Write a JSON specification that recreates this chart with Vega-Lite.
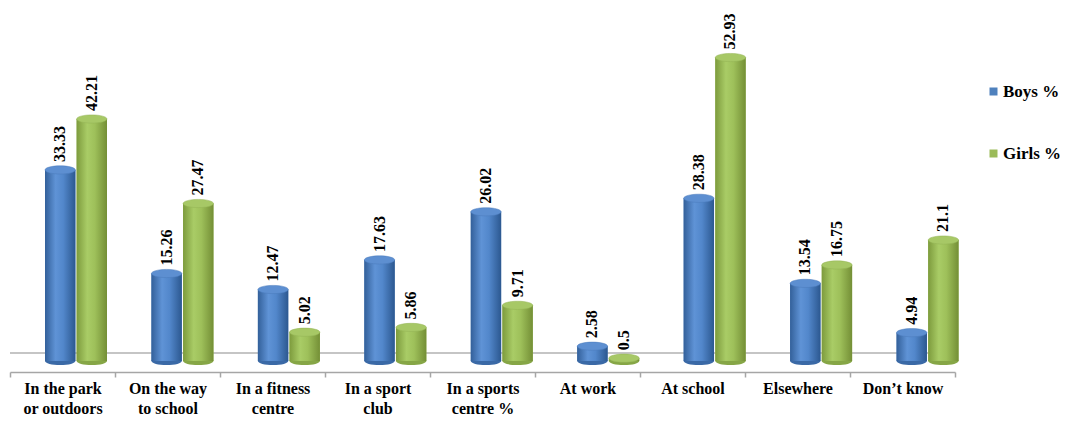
{
  "$schema": "https://vega.github.io/schema/vega-lite/v6.json",
  "width": 945,
  "height": 344,
  "autosize": {"type": "none"},
  "padding": {"left": 10, "top": 17, "right": 113, "bottom": 61},
  "background": "white",
  "config": {"view": {"stroke": null}, "font": "'Liberation Serif', 'Times New Roman', serif"},
  "data": {
    "values": [
      {"category": "In the park|or outdoors", "series": "Boys %", "value": 33.33},
      {"category": "In the park|or outdoors", "series": "Girls %", "value": 42.21},
      {"category": "On the way|to school", "series": "Boys %", "value": 15.26},
      {"category": "On the way|to school", "series": "Girls %", "value": 27.47},
      {"category": "In a fitness|centre", "series": "Boys %", "value": 12.47},
      {"category": "In a fitness|centre", "series": "Girls %", "value": 5.02},
      {"category": "In a sport|club", "series": "Boys %", "value": 17.63},
      {"category": "In a sport|club", "series": "Girls %", "value": 5.86},
      {"category": "In a sports|centre %", "series": "Boys %", "value": 26.02},
      {"category": "In a sports|centre %", "series": "Girls %", "value": 9.71},
      {"category": "At work", "series": "Boys %", "value": 2.58},
      {"category": "At work", "series": "Girls %", "value": 0.5},
      {"category": "At school", "series": "Boys %", "value": 28.38},
      {"category": "At school", "series": "Girls %", "value": 52.93},
      {"category": "Elsewhere", "series": "Boys %", "value": 13.54},
      {"category": "Elsewhere", "series": "Girls %", "value": 16.75},
      {"category": "Don’t know", "series": "Boys %", "value": 4.94},
      {"category": "Don’t know", "series": "Girls %", "value": 21.1}
    ]
  },
  "layer": [
    {
      "mark": {"type": "rule", "color": "#c4c4c4", "strokeWidth": 1.5, "yOffset": -8},
      "encoding": {"y": {"datum": 0, "type": "quantitative", "scale": {"domain": [0, 60]}, "axis": null}}
    },
    {
      "mark": {"type": "tick", "opacity": 0},
      "encoding": {
        "x": {
          "field": "category", "type": "nominal", "sort": null,
          "scale": {"paddingInner": 0, "paddingOuter": 0},
          "axis": {
            "title": null, "labelAngle": 0, "labelExpr": "split(datum.label, '|')",
            "labelFont": "'Liberation Serif', 'Times New Roman', serif", "labelFontSize": 16, "labelFontWeight": "bold",
            "labelColor": "#000000", "labelLineHeight": 20, "labelBaseline": "top",
            "labelPadding": 3, "domainColor": "#a6a6a6", "domainWidth": 1.5,
            "tickColor": "#a6a6a6", "tickWidth": 1.5, "tickSize": 5, "tickBand": "extent", "offset": 11
          }
        }
      }
    },
    {
      "encoding": {
        "x": {"field": "category", "type": "nominal", "sort": null, "axis": null,
              "scale": {"range": [35, 993], "paddingInner": 0, "paddingOuter": 0}},
        "xOffset": {"field": "series", "type": "nominal", "sort": ["Boys %", "Girls %"],
                    "scale": {"range": [0, 62], "paddingInner": 0.04, "paddingOuter": 0}},
        "y": {"field": "value", "type": "quantitative", "scale": {"domain": [0, 60]}, "axis": null}
      },
      "layer": [
        {
          "transform": [{"filter": "datum.series === 'Boys %'"}],
          "mark": {"type": "point", "filled": true, "opacity": 1, "size": 924, "color": "#3a69a6",
                   "shape": "M-1,0A1,0.27,0,1,1,1,0A1,0.27,0,1,1,-1,0Z"},
          "encoding": {"y": {"datum": 0, "type": "quantitative"}}
        },
        {
          "transform": [{"filter": "datum.series === 'Girls %'"}],
          "mark": {"type": "point", "filled": true, "opacity": 1, "size": 924, "color": "#86a646",
                   "shape": "M-1,0A1,0.27,0,1,1,1,0A1,0.27,0,1,1,-1,0Z"},
          "encoding": {"y": {"datum": 0, "type": "quantitative"}}
        },
        {
          "mark": {"type": "bar"},
          "encoding": {
            "color": {
              "field": "series", "type": "nominal",
              "scale": {"domain": ["Boys %", "Girls %"], "range": ["#4F81BD", "#9BBB59"]},
              "legend": {
                "title": null, "orient": "none", "legendX": 975, "legendY": 66,
                "symbolType": "square", "symbolSize": 64, "symbolStrokeWidth": 0,
                "labelFont": "'Liberation Serif', 'Times New Roman', serif", "labelFontSize": 17, "labelFontWeight": "bold",
                "labelColor": "#000000", "rowPadding": 44, "labelOffset": 1
              }
            }
          }
        },
        {
          "transform": [{"filter": "datum.series === 'Boys %'"}],
          "mark": {"type": "bar", "color": {"gradient": "linear", "x1": 0, "x2": 1, "y1": 0, "y2": 0,
            "stops": [{"offset": 0, "color": "#33609a"}, {"offset": 0.35, "color": "#5f93d6"},
                      {"offset": 0.6, "color": "#5287cb"}, {"offset": 1, "color": "#2c5890"}]}}
        },
        {
          "transform": [{"filter": "datum.series === 'Girls %'"}],
          "mark": {"type": "bar", "color": {"gradient": "linear", "x1": 0, "x2": 1, "y1": 0, "y2": 0,
            "stops": [{"offset": 0, "color": "#7d9b3d"}, {"offset": 0.35, "color": "#a9cc66"},
                      {"offset": 0.6, "color": "#9ec05a"}, {"offset": 1, "color": "#748f36"}]}}
        },
        {
          "transform": [{"filter": "datum.series === 'Boys %'"}],
          "mark": {"type": "point", "filled": true, "opacity": 1, "size": 924, "color": "#5d8fd1",
                   "stroke": "#4a7bbb", "strokeWidth": 0.5,
                   "shape": "M-1,0A1,0.27,0,1,1,1,0A1,0.27,0,1,1,-1,0Z"}
        },
        {
          "transform": [{"filter": "datum.series === 'Girls %'"}],
          "mark": {"type": "point", "filled": true, "opacity": 1, "size": 924, "color": "#a7c866",
                   "stroke": "#93b354", "strokeWidth": 0.5,
                   "shape": "M-1,0A1,0.27,0,1,1,1,0A1,0.27,0,1,1,-1,0Z"}
        },
        {
          "mark": {"type": "text", "angle": 270, "align": "left", "baseline": "middle", "dx": 8,
                   "font": "'Liberation Serif', 'Times New Roman', serif", "fontSize": 16, "fontWeight": "bold", "color": "#000000"},
          "encoding": {"text": {"field": "value", "type": "nominal"}}
        }
      ]
    }
  ],
  "resolve": {"scale": {"x": "independent"}}
}
